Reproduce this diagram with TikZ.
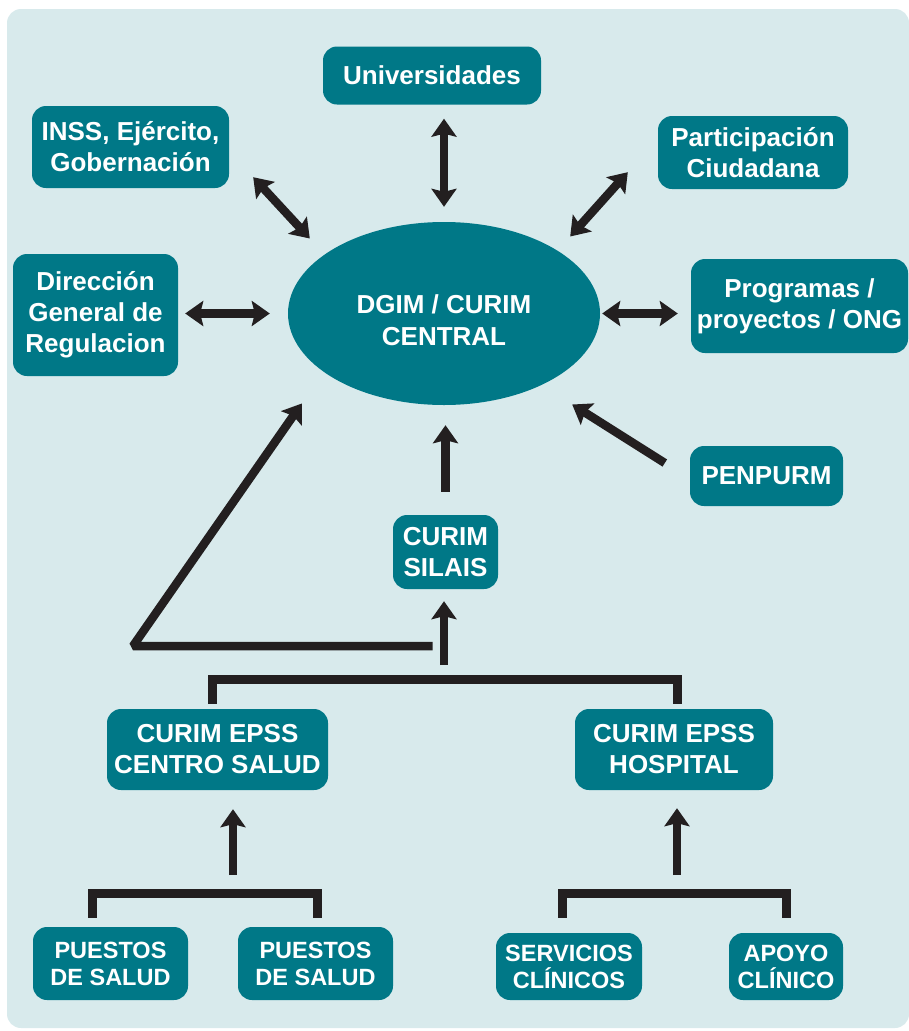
\documentclass[tikz,border=0pt]{standalone}
\usepackage{fontspec}
\setmainfont{Liberation Sans}
\usepackage{xcolor}
\usepackage{tikz}
\usetikzlibrary{shapes.geometric, arrows.meta}

\definecolor{tealbox}{RGB}{0,120,135}
\definecolor{panel}{RGB}{216,234,236}
\definecolor{ink}{RGB}{35,31,32}

\begin{document}
\begin{tikzpicture}[
    x=1pt, y=-1pt,
    >={Stealth[length=18pt, width=25pt, inset=3pt]},
    unit/.style={rectangle, rounded corners=14pt, fill=tealbox, text=white, inner sep=0pt, align=center, font=\fontsize{26}{31}\selectfont\bfseries},
    small/.style={unit, font=\fontsize{23.5}{27}\selectfont\bfseries},
    center/.style={ellipse, fill=tealbox, inner sep=0pt},
    centertext/.style={text=white, inner sep=0pt, align=center, font=\fontsize{26}{32}\selectfont\bfseries},
    link/.style={draw=ink, line width=8.5pt, ->},
    both/.style={draw=ink, line width=8.5pt, <->},
    bar/.style={draw=ink, line width=9pt}
]
    \useasboundingbox (0,0) rectangle (909,1031);
    \fill[panel, rounded corners=14pt] (7,9) rectangle (909,1028);

    \node[center, minimum width=312pt, minimum height=183pt,
          label={[centertext, yshift=-7pt]center:{DGIM / CURIM\\CENTRAL}}] (dgim) at (444,313.5) {};
    \node[unit, minimum width=218pt, minimum height=58pt] (univ) at (432,75.5) {Universidades};
    \node[unit, minimum width=197pt, minimum height=82pt] (inss) at (130.5,147) {INSS, Ejército,\\Gobernación};
    \node[unit, minimum width=190pt, minimum height=73pt] (partic) at (753,152.5) {Participación\\Ciudadana};
    \node[unit, minimum width=165pt, minimum height=122pt] (regul) at (95.5,315) {Dirección\\General de\\Regulacion};
    \node[unit, minimum width=217pt, minimum height=94pt] (prog) at (799.5,306) {Programas /\\proyectos / ONG};
    \node[unit, minimum width=153pt, minimum height=60pt] (penpurm) at (766.5,476) {PENPURM};
    \node[unit, minimum width=105pt, minimum height=74pt] (silais) at (445.5,552) {CURIM\\SILAIS};
    \node[unit, minimum width=221pt, minimum height=81pt] (epssc) at (217.5,749.5) {CURIM EPSS\\CENTRO SALUD};
    \node[unit, minimum width=198pt, minimum height=81pt] (epssh) at (674,749.5) {CURIM EPSS\\HOSPITAL};
    \node[small, minimum width=155pt, minimum height=73pt] (puesto1) at (110.5,963.5) {PUESTOS\\DE SALUD};
    \node[small, minimum width=155pt, minimum height=73pt] (puesto2) at (315.5,963.5) {PUESTOS\\DE SALUD};
    \node[small, minimum width=146pt, minimum height=67pt] (serv) at (569,966.5) {SERVICIOS\\CLÍNICOS};
    \node[small, minimum width=114pt, minimum height=67pt] (apoyo) at (786,966.5) {APOYO\\CLÍNICO};

    \draw[both, shorten <=14pt, shorten >=15pt] (dgim.north |- univ.south) -- (dgim.north);
    \draw[both] ([shift={(24,-11)}]inss.south east) -- ([shift={(22,-75)}]dgim.west);
    \draw[both] ([shift={(-30,-17)}]partic.south west) -- ([shift={(-30,-77)}]dgim.east);
    \draw[both, shorten <=7pt, shorten >=18pt] (regul.east |- dgim.west) -- (dgim.west);
    \draw[both, shorten <=2pt, shorten >=13pt] (dgim.east) -- (dgim.east -| prog.west);
    \draw[link] ([shift={(-25,-13)}]penpurm.west) -- ([shift={(-28,91)}]dgim.east);
    \draw[link, shorten <=23pt, shorten >=20pt] (silais.north) -- (silais.north |- dgim.south);

    \draw[link, shorten >=12pt] ([shift={(-1.5,76)}]silais.south) -- ([xshift=-1.5pt]silais.south);
    \coordinate (elbow) at (133,646);
    \draw[link, line join=bevel] ([shift={(-13,57)}]silais.south) -- (elbow) -- ([shift={(14,90)}]dgim.west);
    \draw[bar] ([shift={(-5,-5)}]epssc.north) -- ++(0,-24.5) -| ([shift={(3.5,-5)}]epssh.north);

    \draw[link] ([shift={(15.5,85)}]epssc.south) -- ([shift={(15.5,19)}]epssc.south);
    \draw[link] ([shift={(3,85)}]epssh.south) -- ([shift={(3,18)}]epssh.south);
    \draw[bar] ([shift={(-18,-9)}]puesto1.north) -- ++(0,-24) -| ([shift={(2,-9)}]puesto2.north);
    \draw[bar] ([shift={(-7,-15)}]serv.north) -- ++(0,-24.5) -| ([shift={(0.5,-15)}]apoyo.north);
\end{tikzpicture}
\end{document}
